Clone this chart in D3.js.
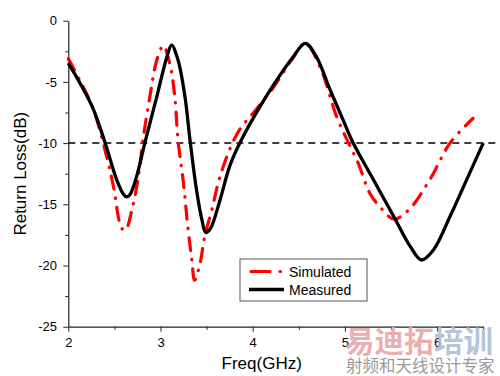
<!DOCTYPE html>
<html><head><meta charset="utf-8">
<script src="https://cdn.jsdelivr.net/npm/d3@7"></script>
<style>body{margin:0;background:#fff}svg{display:block}</style>
</head><body>
<svg id="c" width="500" height="376"></svg>
<script>
const measuredFreq = [2.00,2.127,2.27,2.40,2.525,2.60,2.633,2.67,2.74,2.83,2.96,3.07,3.12,3.19,3.265,3.32,3.39,3.45,3.49,3.54,3.645,3.75,3.86,4.08,4.26,4.44,4.57,4.69,4.84,4.98,5.09,5.31,5.53,5.71,5.83,5.96,6.14,6.32,6.50];
const measuredDb   = [-3.46,-5.1,-7.2,-10.0,-13.0,-14.2,-14.4,-14.2,-12.74,-10.0,-6.2,-2.94,-1.99,-3.21,-6.2,-9.75,-13.8,-16.3,-17.3,-17.0,-14.66,-11.9,-10.0,-7.0,-4.85,-2.94,-1.85,-2.94,-5.66,-8.1,-10.0,-13.0,-16.0,-18.46,-19.55,-18.73,-16.0,-13.0,-10.0];
const simulatedFreq = [2.00,2.127,2.27,2.416,2.49,2.58,2.62,2.69,2.76,2.81,2.885,2.96,3.03,3.10,3.155,3.19,3.245,3.30,3.34,3.37,3.43,3.48,3.555,3.645,3.78,3.88,4.00,4.22,4.44,4.57,4.73,4.91,5.04,5.145,5.27,5.38,5.53,5.69,5.92,6.14,6.39];
const simulatedDb   = [-3.1,-4.9,-7.2,-11.1,-13.56,-16.96,-17.1,-15.47,-12.74,-9.75,-6.2,-3.21,-2.05,-3.48,-6.2,-9.75,-13.0,-17.1,-19.55,-21.2,-19.8,-17.6,-15.5,-12.74,-10.0,-8.66,-7.6,-5.5,-3.0,-1.85,-3.76,-7.84,-10.0,-11.65,-14.1,-15.2,-16.2,-15.47,-13.0,-10.0,-7.97];
const xTicks = [2,3,4,5,6];
const xMinor = [2.5,3.5,4.5,5.5,6.5];
const yTicks = [0,-5,-10,-15,-20,-25];
const yMinor = [-2.5,-7.5,-12.5,-17.5,-22.5];
const threshold = -10;
const seriesNames = ["Simulated","Measured"];

const svg = d3.select("#c");
const x = d3.scaleLinear().domain([2,6.5]).range([68.3,483.2]);
const y = d3.scaleLinear().domain([-25,0]).range([326.7,20.7]);
const font = "'Liberation Sans', Arial, sans-serif";

// axes
const xAxis = svg.append("g").attr("transform",`translate(0,${y(-25)})`)
  .call(d3.axisBottom(x).tickValues(xTicks).tickFormat(d3.format("d")).tickSize(5).tickSizeOuter(0));
svg.append("g").attr("transform",`translate(0,${y(-25)})`)
  .call(d3.axisBottom(x).tickValues(xMinor).tickFormat("").tickSize(3).tickSizeOuter(0))
  .select(".domain").remove();
const yAxis = svg.append("g").attr("transform",`translate(${x(2)},0)`)
  .call(d3.axisLeft(y).tickValues(yTicks).tickFormat(d3.format("d")).tickSize(5).tickSizeOuter(0));
svg.append("g").attr("transform",`translate(${x(2)},0)`)
  .call(d3.axisLeft(y).tickValues(yMinor).tickFormat("").tickSize(3).tickSizeOuter(0))
  .select(".domain").remove();
svg.selectAll(".domain").attr("stroke","#222").attr("stroke-width",1.2);
svg.selectAll(".tick line").attr("stroke","#222").attr("stroke-width",1);
xAxis.selectAll("text").attr("font-family",font).attr("font-size",13).attr("fill","#000").attr("dy","0.95em");
yAxis.selectAll("text").attr("font-family",font).attr("font-size",13).attr("fill","#000").attr("dx","-0.25em")
  .text(d=> d<0 ? "-"+Math.abs(d) : d);

// threshold line
svg.append("line").attr("x1",x(2)).attr("x2",500).attr("y1",y(threshold)).attr("y2",y(threshold))
  .attr("stroke","#000").attr("stroke-width",1.5).attr("stroke-dasharray","7,5");

const line = d3.line().x(d=>x(d[0])).y(d=>y(d[1])).curve(d3.curveCatmullRom.alpha(0.5));
const sim = simulatedFreq.map((f,i)=>[f,simulatedDb[i]]);
const meas = measuredFreq.map((f,i)=>[f,measuredDb[i]]);

svg.append("path").datum(sim).attr("d",line).attr("fill","none").attr("stroke","#ff0000")
  .attr("stroke-width",3.2).attr("stroke-linecap","round").attr("stroke-dasharray","13,9,0.5,9");
svg.append("path").datum(meas).attr("d",line).attr("fill","none").attr("stroke","#000")
  .attr("stroke-width",3.3).attr("stroke-linejoin","round");

// titles
svg.append("text").attr("x",261.7).attr("y",369).attr("text-anchor","middle")
  .attr("font-family",font).attr("font-size",17).text("Freq(GHz)");
svg.append("text").attr("transform",`translate(26,${(y(0)+y(-25))/2}) rotate(-90)`).attr("text-anchor","middle")
  .attr("font-family",font).attr("font-size",17).text("Return Loss(dB)");

// legend
const lg = svg.append("g");
lg.append("rect").attr("x",240).attr("y",259).attr("width",127).attr("height",42)
  .attr("fill","#fff").attr("stroke","#555").attr("stroke-width",1);
lg.append("line").attr("x1",251).attr("x2",282).attr("y1",271.5).attr("y2",271.5)
  .attr("stroke","#ff0000").attr("stroke-width",3.2).attr("stroke-linecap","round").attr("stroke-dasharray","19,10,0.5,9");
lg.append("line").attr("x1",249).attr("x2",284).attr("y1",289.5).attr("y2",289.5)
  .attr("stroke","#000").attr("stroke-width",3.3);
lg.append("text").attr("x",289).attr("y",276.5).attr("font-family",font).attr("font-size",14).text(seriesNames[0]);
lg.append("text").attr("x",289).attr("y",294.5).attr("font-family",font).attr("font-size",14).text(seriesNames[1]);

// watermark
const wm = svg.append("g");
wm.append("text").attr("x",345).attr("y",352).attr("font-family","'Noto Sans CJK SC'").attr("font-weight","bold")
  .attr("font-size",29.5).attr("fill","#e8a4a4").attr("fill-opacity",0.9).text("易迪拓");
wm.append("text").attr("x",434).attr("y",352).attr("font-family","'Noto Sans CJK SC'").attr("font-weight","bold")
  .attr("font-size",29.5).attr("fill","#a9bcd6").attr("fill-opacity",0.9).text("培训");
wm.append("text").attr("x",346).attr("y",372).attr("font-family","'Noto Sans CJK SC'")
  .attr("font-size",16.5).attr("fill","#9a9a9a").text("射频和天线设计专家");
</script>
</body></html>
